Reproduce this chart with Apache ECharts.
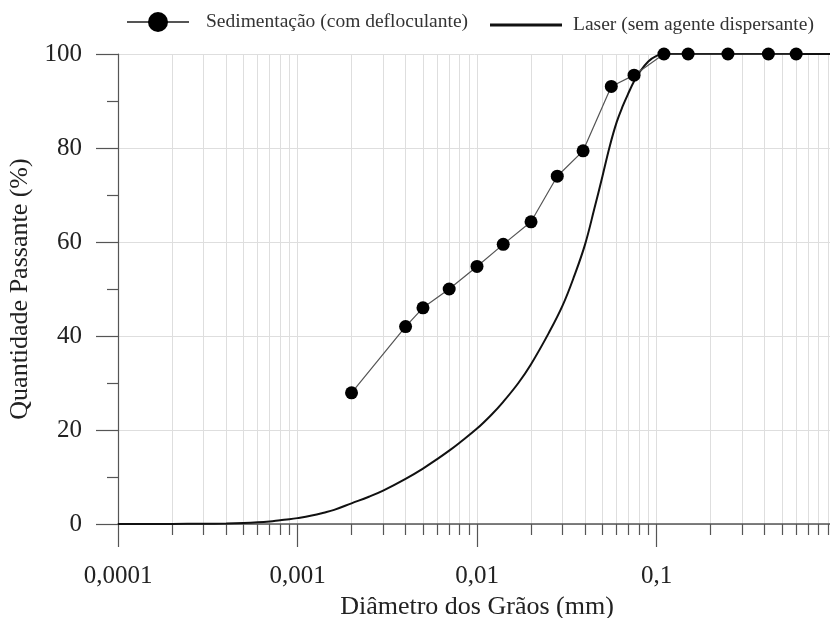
<!DOCTYPE html>
<html>
<head>
<meta charset="utf-8">
<style>
  html, body { margin: 0; padding: 0; background: #fff; }
  #chart { width: 830px; height: 618px; }
</style>
<script src="https://cdn.jsdelivr.net/npm/echarts@6/dist/echarts.min.js"></script>
</head>
<body>
<div id="chart"></div>
<script>
// Grain-size distribution: sedimentation test vs. laser diffraction
const sedDiameters = [0.002, 0.004, 0.005, 0.007, 0.01, 0.014, 0.02, 0.028, 0.039, 0.056, 0.075, 0.11, 0.15, 0.25, 0.42, 0.6];
const sedPassing   = [27.9, 42.0, 46.0, 50.0, 54.8, 59.5, 64.3, 74.0, 79.4, 93.1, 95.5, 100, 100, 100, 100, 100];

const laserDiameters = [0.0001, 0.0002, 0.0003, 0.0004, 0.0005, 0.0006, 0.0007, 0.0008, 0.0009, 0.001,
                        0.0012, 0.0014, 0.0016, 0.002, 0.0025, 0.003, 0.004, 0.005, 0.006, 0.007,
                        0.008, 0.01, 0.012, 0.014, 0.017, 0.02, 0.025, 0.03, 0.035, 0.04,
                        0.045, 0.05, 0.055, 0.06, 0.065, 0.07, 0.075, 0.08, 0.09, 0.1,
                        0.11, 0.13, 0.2, 0.5, 1];
const laserPassing   = [0, 0.02, 0.05, 0.1, 0.2, 0.35, 0.55, 0.8, 1.0, 1.25,
                        1.8, 2.4, 3.0, 4.4, 5.8, 7.1, 9.6, 11.8, 13.8, 15.6,
                        17.3, 20.3, 23.2, 26.0, 30.0, 34.0, 40.5, 46.5, 53.0, 59.5,
                        67.0, 74.0, 80.5, 85.5, 89.0, 91.8, 94.2, 96.0, 98.4, 99.6,
                        100, 100, 100, 100, 100];

// Intermediate log-cycle positions (2..9 of each decade)
const minorTickValues = [];
[0.0001, 0.001, 0.01, 0.1].forEach(function (d) {
  for (let k = 2; k <= 9; k++) minorTickValues.push(+(d * k).toPrecision(3));
});

const seriesNames = ['Sedimentação (com defloculante)', 'Laser (sem agente dispersante)'];
const FONT = 'Liberation Serif';
const TXT = '#222';
const GRIDC = '#dedede';
const AXISC = '#555';

const chart = echarts.init(document.getElementById('chart'), null, { renderer: 'canvas' });

function pairs(xs, ys) { return xs.map(function (x, i) { return [x, ys[i]]; }); }

chart.setOption({
  backgroundColor: '#fff',
  animation: false,
  textStyle: { fontFamily: FONT, color: TXT },
  legend: [
    {
      data: [seriesNames[0]],
      left: 121, top: 7,
      itemWidth: 62, itemHeight: 25, itemGap: 10,
      textStyle: { fontFamily: FONT, fontSize: 19.5, color: '#333', padding: [0, 0, 0, 12] }
    },
    {
      data: [{ name: seriesNames[1], icon: 'rect' }],
      left: 485, top: 10,
      itemWidth: 72, itemHeight: 3, itemGap: 10,
      textStyle: { fontFamily: FONT, fontSize: 19.5, color: '#333', padding: [0, 0, 0, 6] }
    }
  ],
  grid: { left: 118, width: 718, top: 54, height: 470, containLabel: false, outerBoundsMode: 'none' },
  xAxis: [
    {
      type: 'log', logBase: 10, min: 0.0001, max: 1,
      name: 'Diâmetro dos Grãos (mm)', nameLocation: 'middle', nameGap: 68,
      nameTextStyle: { fontFamily: FONT, fontSize: 26, color: TXT },
      axisLine: { show: true, lineStyle: { color: AXISC, width: 1.5 } },
      axisTick: { show: true, inside: false, length: 23, lineStyle: { color: AXISC, width: 1.2 } },
      axisLabel: {
        fontFamily: FONT, fontSize: 25, color: TXT, margin: 40,
        formatter: function (v) { return String(v).replace('.', ','); }
      },
      splitLine: { show: true, lineStyle: { color: GRIDC, width: 1 } },
      minorTick: { show: false }
    },
    {
      type: 'log', logBase: 10, min: 0.0001, max: 1,
      position: 'bottom',
      axisLine: { show: false },
      axisTick: { show: true, length: 11, customValues: minorTickValues, lineStyle: { color: AXISC, width: 1.2 } },
      axisLabel: { show: false },
      splitLine: { show: true, lineStyle: { color: GRIDC, width: 1 } }
    }
  ],
  yAxis: {
    type: 'value', min: 0, max: 100, interval: 20,
    name: 'Quantidade Passante (%)', nameLocation: 'middle', nameGap: 81,
    nameTextStyle: { fontFamily: FONT, fontSize: 26, color: TXT },
    axisLine: { show: true, lineStyle: { color: AXISC, width: 1.2 } },
    axisTick: { show: true, length: 22, lineStyle: { color: AXISC, width: 1.2 } },
    minorTick: { show: true, splitNumber: 2, length: 11, lineStyle: { color: AXISC, width: 1.2 } },
    axisLabel: { fontFamily: FONT, fontSize: 25, color: TXT, margin: 36 },
    splitLine: { show: true, lineStyle: { color: GRIDC, width: 1 } }
  },
  series: [
    {
      name: seriesNames[0],
      type: 'line',
      xAxisIndex: 0,
      data: pairs(sedDiameters, sedPassing),
      symbol: 'circle', symbolSize: 13,
      itemStyle: { color: '#000' },
      lineStyle: { color: '#555', width: 1.2 },
      z: 4
    },
    {
      name: seriesNames[1],
      type: 'line',
      xAxisIndex: 0,
      data: pairs(laserDiameters, laserPassing),
      symbol: 'none',
      smooth: 0.4,
      itemStyle: { color: '#111' },
      lineStyle: { color: '#111', width: 2 },
      z: 3
    }
  ]
});
</script>
</body>
</html>
